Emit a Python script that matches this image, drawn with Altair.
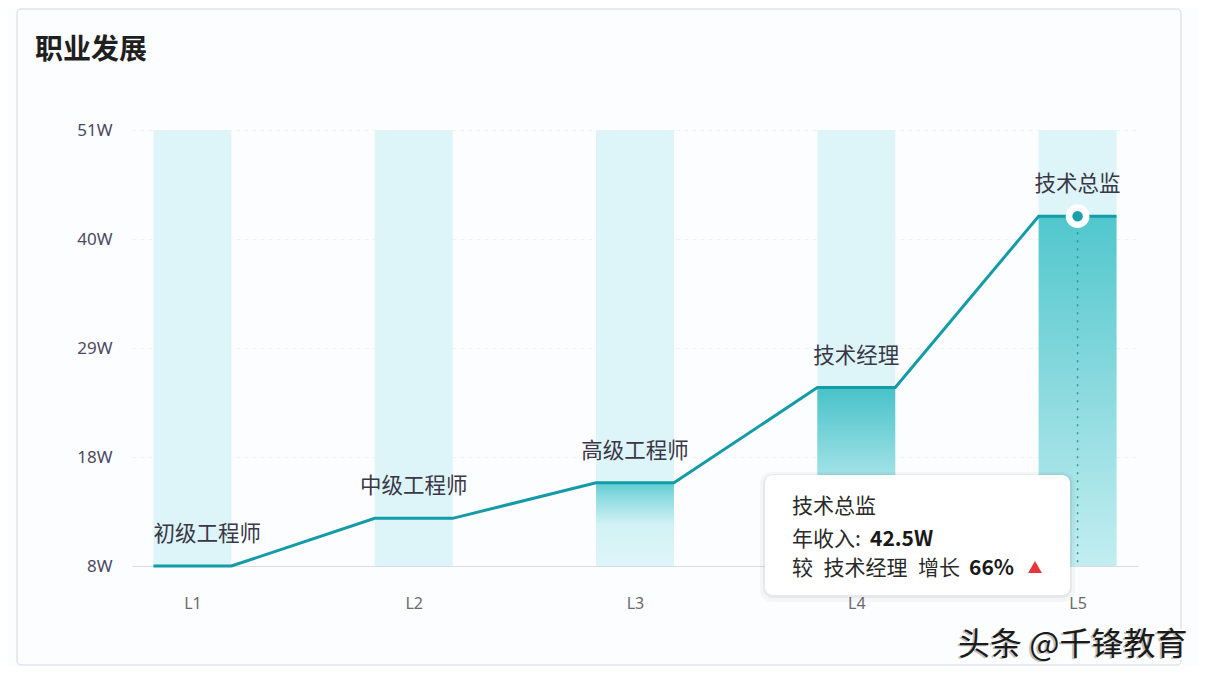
import altair as alt
import pandas as pd

# ---------------- data ----------------
levels = [1, 2, 3, 4, 5]
level_names = ["L1", "L2", "L3", "L4", "L5"]
roles = ["初级工程师", "中级工程师", "高级工程师", "技术经理", "技术总监"]
salary = [8.0, 12.7, 16.2, 25.6, 42.5]          # 万元 (W)
y_ticks = [8, 18.75, 29.5, 40.25, 51]
title_text = "职业发展"
watermark_text = "头条 @千锋教育"

# ---------------- helpers ----------------
FONT = "Noto Sans CJK SC"
HALF = 0.176
X_DOMAIN = [0.727, 5.273]
Y_DOMAIN = [min(y_ticks), max(y_ticks)]

df = pd.DataFrame({"pos": levels, "name": level_names, "role": roles, "salary": salary})
df["x0"] = df["pos"] - HALF
df["x1"] = df["pos"] + HALF
df["top"] = Y_DOMAIN[1]
df["base"] = Y_DOMAIN[0]

line_rows = []
for p, v in zip(levels, salary):
    line_rows.append({"x": p - HALF, "y": v, "o": 2 * p})
    line_rows.append({"x": p + HALF, "y": v, "o": 2 * p + 1})
line_df = pd.DataFrame(line_rows)

one = pd.DataFrame({"k": [0]})

x_axis = alt.Axis(values=levels, labelExpr="'L' + datum.value", title=None, ticks=False,
                  grid=False, domain=True, domainColor="#d8dde3", domainWidth=1,
                  labelPadding=29, labelFontSize=16, labelColor="#6b6b6b", labelFont="Noto Sans")
y_axis = alt.Axis(values=y_ticks, labelExpr="floor(datum.value) + 'W'", title=None, ticks=False,
                  domain=False, grid=True, gridColor="#f0f3f6", gridDash=[4, 4],
                  labelPadding=20, labelFontSize=17, labelColor="#4d4862", labelFont="Noto Sans")


def X(field):
    return alt.X(field, type="quantitative", axis=x_axis,
                 scale=alt.Scale(domain=X_DOMAIN, nice=False, zero=False))


def Y(field):
    return alt.Y(field, type="quantitative", axis=y_axis,
                 scale=alt.Scale(domain=Y_DOMAIN, nice=False, zero=False))


def grad(stops):
    return alt.Gradient(gradient="linear", x1=0, x2=0, y1=0, y2=1,
                        stops=[alt.GradientStop(color=c, offset=o) for o, c in stops])


# ---------------- layers ----------------
panel = alt.Chart(one).mark_rect(fillOpacity=0, stroke="#e0e5eb", strokeWidth=1.5,
                                 cornerRadius=4).encode(
    x=alt.value(-115), x2=alt.value(1049), y=alt.value(-121), y2=alt.value(535))

bands = alt.Chart(df).mark_rect(color="#ddf5f8").encode(
    x=X("x0"), x2="x1", y=Y("top"), y2="base")

g3 = alt.Chart(df).transform_filter(alt.datum.pos == 3).mark_rect(
    color=grad([(0, "#5ccdd2"), (0.15, "#86dade"), (0.5, "#d2f2f5"), (1, "#ddf5f8")])
).encode(x=X("x0"), x2="x1", y=Y("salary"), y2="base")

g4 = alt.Chart(df).transform_filter(alt.datum.pos == 4).mark_rect(
    color=grad([(0, "#48c2c8"), (0.5, "#a3e3e7"), (1, "#d8f4f7")])
).encode(x=X("x0"), x2="x1", y=Y("salary"), y2="base")

g5 = alt.Chart(df).transform_filter(alt.datum.pos == 5).mark_rect(
    color=grad([(0, "#50c7cd"), (0.5, "#8bdade"), (1, "#c2eef1")])
).encode(x=X("x0"), x2="x1", y=Y("salary"), y2="base")

rule5 = alt.Chart(df).transform_filter(alt.datum.pos == 5).mark_rule(
    color="#2a95a0", strokeDash=[2, 6], strokeWidth=1.5
).encode(x=X("pos"), y=Y("salary"), y2="base")

line = alt.Chart(line_df).mark_line(color="#139ba7", strokeWidth=3).encode(
    x=X("x"), y=Y("y"), order="o:Q")

ring = alt.Chart(df).transform_filter(alt.datum.pos == 5).mark_circle(
    size=560, color="#ffffff", opacity=1).encode(x=X("pos"), y=Y("salary"))
dot = alt.Chart(df).transform_filter(alt.datum.pos == 5).mark_circle(
    size=110, color="#1aa0ac", opacity=1).encode(x=X("pos"), y=Y("salary"))

labels = alt.Chart(df).transform_filter(alt.datum.pos > 1).mark_text(
    font=FONT, fontSize=21.5, color="#3a3747", dy=-31, baseline="middle", align="center"
).encode(x=X("pos"), y=Y("salary"), text="role:N")
label1 = alt.Chart(df).transform_filter(alt.datum.pos == 1).mark_text(
    font=FONT, fontSize=21.5, color="#3a3747", dy=-31, baseline="middle", align="left"
).encode(x=X("x0"), y=Y("salary"), text="role:N")

title = alt.Chart(one).mark_text(text=title_text, font=FONT, fontSize=28, fontWeight="bold",
                                 color="#1f1f1f", align="left", baseline="middle").encode(
    x=alt.value(-97), y=alt.value(-79))

# tooltip
cur_role, prev_role = roles[-1], roles[-2]
income = f"{salary[-1]}W"
growth = f"{round((salary[-1] / salary[-2] - 1) * 100)}%"
SP = "\u2002"

TX0, TX1, TY0, TY1 = 633, 938, 345, 465
tip_shadow2 = alt.Chart(one).mark_rect(color="#000000", opacity=0.03, cornerRadius=12).encode(
    x=alt.value(TX0 - 5), x2=alt.value(TX1 + 5), y=alt.value(TY0 - 3), y2=alt.value(TY1 + 7))
tip_shadow = alt.Chart(one).mark_rect(color="#000000", opacity=0.05, cornerRadius=10).encode(
    x=alt.value(TX0 - 2), x2=alt.value(TX1 + 2), y=alt.value(TY0 - 1), y2=alt.value(TY1 + 3))
tip_box = alt.Chart(one).mark_rect(color="#ffffff", opacity=1, cornerRadius=8).encode(
    x=alt.value(TX0), x2=alt.value(TX1), y=alt.value(TY0), y2=alt.value(TY1))


def tip_text(txt, x, y, bold=False, color="#2a2a2a"):
    return alt.Chart(one).mark_text(text=txt, font=FONT, fontSize=21, color=color,
                                    fontWeight="bold" if bold else "normal",
                                    align="left", baseline="middle").encode(
        x=alt.value(x), y=alt.value(y))


t1 = tip_text(cur_role, 660, 377)
t2a = tip_text("年收入:", 660, 410)
t2b = tip_text(income, 738, 410, bold=True, color="#1a1a1a")
t3a = tip_text(f"较{SP}{prev_role}{SP}增长", 660, 439)
t3b = tip_text(growth, 837, 439, bold=True, color="#1a1a1a")
tri = alt.Chart(one).mark_point(shape="triangle-up", filled=True, color="#e8343b",
                                opacity=1, size=190).encode(x=alt.value(903), y=alt.value(437))

wm_halo = alt.Chart(one).mark_text(text=watermark_text, font=FONT, fontSize=32, color="#ffffff",
                                   stroke="#ffffff", strokeWidth=4, align="left",
                                   baseline="middle").encode(x=alt.value(826), y=alt.value(515))
wm_shadow = alt.Chart(one).mark_text(text=watermark_text, font=FONT, fontSize=32, color="#9a9a9a",
                                     opacity=0.6, align="left", baseline="middle", dx=-2, dy=1).encode(
    x=alt.value(826), y=alt.value(515))
wm = alt.Chart(one).mark_text(text=watermark_text, font=FONT, fontSize=32, color="#1b1b1b",
                              align="left", baseline="middle").encode(
    x=alt.value(826), y=alt.value(515))

chart = alt.layer(
    panel, bands, g3, g4, g5, rule5, line, ring, dot, labels, label1, title,
    tip_shadow2, tip_shadow, tip_box, t1, t2a, t2b, t3a, t3b, tri, wm_halo, wm_shadow, wm
).properties(
    width=1006, height=436,
    autosize=alt.AutoSizeParams(type="none"),
    padding={"left": 124, "top": 122, "right": 60, "bottom": 100},
    background="#fcfdfe",
).configure_view(stroke=None)

chart.save("out.html", embed_options={"renderer": "svg", "actions": False})
